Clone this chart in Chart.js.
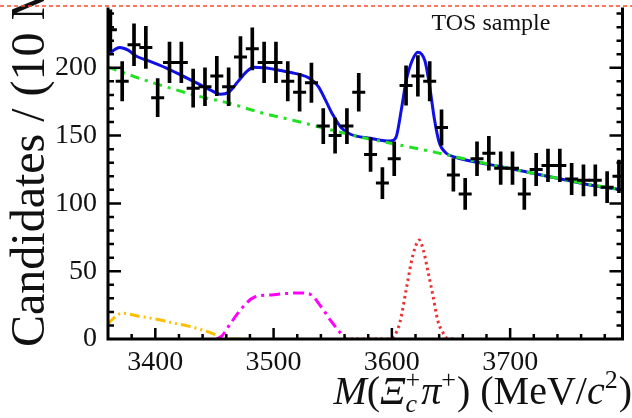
<!DOCTYPE html>
<html>
<head>
<meta charset="utf-8">
<script src="https://cdn.jsdelivr.net/npm/chart.js@4.4.1/dist/chart.umd.min.js"></script>
<style>
  html, body { margin: 0; padding: 0; background: #fff; }
  canvas { display: block; }
</style>
</head>
<body>
<canvas id="massChart" width="632" height="418"></canvas>
<script>
// data: bin centres (MeV/c2), candidates and their errors
var binMass = [3362, 3372, 3382, 3392, 3402, 3412, 3422, 3432, 3442, 3452,
               3462, 3472, 3482, 3492, 3502, 3512, 3522, 3532, 3542, 3552,
               3562, 3572, 3582, 3592, 3602, 3612, 3622, 3632, 3642, 3652,
               3662, 3672, 3682, 3692, 3702, 3712, 3722, 3732, 3742, 3752,
               3762, 3772, 3782, 3792];
var candidates = [228, 190, 217, 215, 178, 204, 204, 185, 186, 194,
                  186, 208, 214, 204, 204, 190, 182, 189, 157, 150,
                  157, 182, 136, 115, 133, 187, 194, 190, 156, 121,
                  107, 133, 137, 126, 126, 107, 125, 128, 128, 118,
                  117, 117, 112, 120];
var candErr = [16, 14.5, 15.5, 15.5, 14, 15, 15, 14, 14, 14.5,
               14, 15, 15.5, 15, 15, 14.5, 14, 14.5, 13, 13,
               13, 14, 12.5, 11.5, 12.5, 14.5, 15, 14.5, 13, 12,
               11.5, 12.5, 12.5, 12, 12, 11.5, 12, 12, 12, 11.5,
               11.5, 11.5, 11.5, 12];

// fit components
var totalX = [3360, 3370, 3377, 3384, 3395, 3409, 3423, 3437, 3448, 3455, 3462, 3470, 3477, 3483, 3492,
              3506, 3520, 3531, 3538, 3544, 3550, 3557, 3565, 3582, 3596, 3601, 3604, 3608, 3612, 3617,
              3622, 3628, 3632, 3636, 3640, 3646, 3654, 3671, 3690, 3715, 3743, 3771, 3795];
var totalY = [210, 215, 213, 208.5, 205, 200, 194, 188, 183, 180.5, 182, 190, 197, 200.5, 200,
              198, 195.5, 192, 186, 176, 165.5, 156, 151, 148, 146, 146.5, 150, 169, 190, 205,
              211.5, 205, 186, 162, 145, 137, 134, 130.5, 127.5, 123, 118, 113, 110];

var bkgX = [3360, 3384, 3409, 3437, 3462, 3489, 3518, 3545, 3573, 3601, 3635, 3671, 3690, 3715, 3743, 3771, 3795];
var bkgY = [200.5, 193, 186, 179, 174, 167, 161, 155, 149, 144, 138, 131, 127.5, 123, 118, 113.5, 110];

var sigX = [3560, 3598, 3601, 3607, 3612, 3616.5, 3619.5, 3623, 3626.5, 3630, 3634.5, 3639, 3643, 3647, 3655];
var sigY = [0, 0, 1, 13, 36, 57, 67, 73, 66, 52, 33, 13, 5, 0.5, 0];

var reflX = [3452, 3456, 3464, 3473, 3484, 3498, 3510, 3523, 3531, 3540, 3548, 3556, 3561];
var reflY = [0, 2, 12, 22.6, 31, 32.5, 33.5, 34, 33, 24, 14, 5, 0];

var lowX = [3360, 3362, 3372, 3385, 3400, 3414, 3428, 3442, 3453, 3458, 3480];
var lowY = [11, 13, 19, 17, 14.8, 12, 9.5, 6, 2.4, 0.5, 0];

var xTickLabels = [3400, 3500, 3600, 3700];
var yTickLabels = [0, 50, 100, 150, 200];

var serif = '"Liberation Serif", "DejaVu Serif", serif';

function pairs(xs, ys) {
  return xs.map(function (x, i) { return { x: x, y: ys[i] }; });
}

function curve(xs, ys, color, dash, order) {
  return {
    type: 'line',
    data: pairs(xs, ys),
    borderColor: color,
    borderWidth: 3,
    borderDash: dash,
    pointRadius: 0,
    fill: false,
    cubicInterpolationMode: 'monotone',
    order: order
  };
}

// inward ROOT style ticks and frame
var frame = {
  id: 'frame',
  afterDatasetsDraw: function (chart) {
    var ctx = chart.ctx, a = chart.chartArea;
    var xs = chart.scales.x, ys = chart.scales.y;
    ctx.save();
    ctx.strokeStyle = '#000';
    ctx.lineWidth = 2.5;
    ctx.beginPath();
    for (var m = 3380; m <= 3780; m += 20) {
      var px = xs.getPixelForValue(m);
      var len = (m % 100 === 0) ? 11 : 5;
      ctx.moveTo(px, a.bottom);
      ctx.lineTo(px, a.bottom - len);
    }
    for (var v = 10; v <= 240; v += 10) {
      var py = ys.getPixelForValue(v);
      var l = (v % 50 === 0) ? 13 : 6;
      ctx.moveTo(a.left, py);
      ctx.lineTo(a.left + l, py);
      ctx.moveTo(a.right, py);
      ctx.lineTo(a.right - l, py);
    }
    ctx.stroke();
    ctx.lineWidth = 3;
    ctx.beginPath();
    ctx.moveTo(a.left, a.top - 2);
    ctx.lineTo(a.left, a.bottom);
    ctx.lineTo(a.right, a.bottom);
    ctx.lineTo(a.right, a.top - 2);
    ctx.stroke();
    ctx.restore();
  },
  afterDraw: function (chart) {
    var ctx = chart.ctx;
    ctx.save();
    ctx.fillStyle = '#111';

    // y title, runs off the top like the original
    ctx.save();
    ctx.translate(44, 347);
    ctx.rotate(-Math.PI / 2);
    ctx.font = '48px ' + serif;
    ctx.textAlign = 'left';
    ctx.textBaseline = 'alphabetic';
    ctx.fillText('Candidates / (10 MeV/c\u00b2)', 0, 0);
    ctx.restore();

    // x title
    var big = 40, small = 26;
    var pieces = [
      { t: 'M', it: true }, { t: '(' }, { t: '\u039e', it: true },
      { sup: '+', sub: 'c' }, { t: '\u03c0', it: true }, { sup: '+' },
      { t: ')' }, { t: ' (MeV/' }, { t: 'c', it: true }, { sup: '2' }, { t: ')' }
    ];
    function fnt(size, it) { return (it ? 'italic ' : '') + size + 'px ' + serif; }
    var total = 0;
    pieces.forEach(function (p) {
      if (p.t) {
        ctx.font = fnt(big, p.it);
        p.w = ctx.measureText(p.t).width;
      } else {
        ctx.font = fnt(small, false);
        var w1 = ctx.measureText(p.sup).width;
        ctx.font = fnt(small, true);
        var w2 = p.sub ? ctx.measureText(p.sub).width : 0;
        p.w = Math.max(w1, w2) + 1;
      }
      total += p.w;
    });
    var x = 632 - total, base = 404;
    ctx.textAlign = 'left';
    ctx.textBaseline = 'alphabetic';
    pieces.forEach(function (p) {
      if (p.t) {
        ctx.font = fnt(big, p.it);
        ctx.fillText(p.t, x, base);
      } else {
        ctx.font = fnt(small, false);
        ctx.fillText(p.sup, x, base - 16);
        if (p.sub) {
          ctx.font = fnt(small, true);
          ctx.fillText(p.sub, x, base + 8);
        }
      }
      x += p.w;
    });

    ctx.font = '24px ' + serif;
    ctx.textAlign = 'center';
    ctx.fillText('TOS sample', 491, 30);

    // dashed cut line at the top
    ctx.strokeStyle = '#ff4a2a';
    ctx.lineWidth = 1.5;
    ctx.setLineDash([4, 3]);
    ctx.beginPath();
    ctx.moveTo(0, 6);
    ctx.lineTo(632, 6);
    ctx.stroke();
    ctx.restore();
  }
};

var errBars = binMass.map(function (m, i) {
  return { x: m, y: [candidates[i] - candErr[i], candidates[i] + candErr[i]] };
});

var massChart = new Chart(document.getElementById('massChart'), {
  type: 'scatter',
  data: {
    datasets: [
      {
        type: 'scatter',
        data: pairs(binMass, candidates),
        pointStyle: 'line',
        pointRadius: 6.5,
        pointBorderWidth: 3,
        pointBorderColor: '#000',
        pointBackgroundColor: '#000',
        clip: 0,
        order: 0
      },
      {
        type: 'bar',
        data: errBars,
        backgroundColor: '#000',
        borderWidth: 0,
        barThickness: 3,
        grouped: false,
        order: 0
      },
      curve(bkgX, bkgY, '#22e022', [9, 6, 3, 6], 1),
      curve(totalX, totalY, '#1010e6', [], 2),
      curve(sigX, sigY, '#ee3030', [2.5, 3.5], 3),
      curve(reflX, reflY, '#ff00ff', [11, 5, 3, 5], 3),
      curve(lowX, lowY, '#ffbf00', [10, 4, 2, 4, 2, 4], 3)
    ]
  },
  options: {
    responsive: false,
    animation: false,
    events: [],
    layout: { padding: { left: 0, right: 4, top: 0, bottom: 0 } },
    plugins: { legend: { display: false }, tooltip: { enabled: false } },
    scales: {
      x: {
        type: 'linear',
        min: 3360,
        max: 3795,
        offset: false,
        grid: { display: false, drawTicks: false, offset: false },
        border: { display: false },
        ticks: {
          font: { family: serif, size: 28 }, color: '#111', padding: 7, maxRotation: 0,
          callback: function (v) { return String(v); }
        },
        afterBuildTicks: function (s) { s.ticks = xTickLabels.map(function (v) { return { value: v }; }); },
        afterFit: function (s) { s.height = 79; s.paddingLeft = 0; s.paddingRight = 0; }
      },
      y: {
        min: 0,
        max: 243,
        grid: { display: false, drawTicks: false },
        border: { display: false },
        ticks: {
          font: { family: serif, size: 28 }, color: '#111', padding: 11,
          callback: function (v) { return String(v); }
        },
        afterBuildTicks: function (s) { s.ticks = yTickLabels.map(function (v) { return { value: v }; }); },
        afterFit: function (s) { s.width = 108; s.paddingTop = 0; s.paddingBottom = 0; }
      }
    }
  },
  plugins: [frame]
});
</script>
</body>
</html>
